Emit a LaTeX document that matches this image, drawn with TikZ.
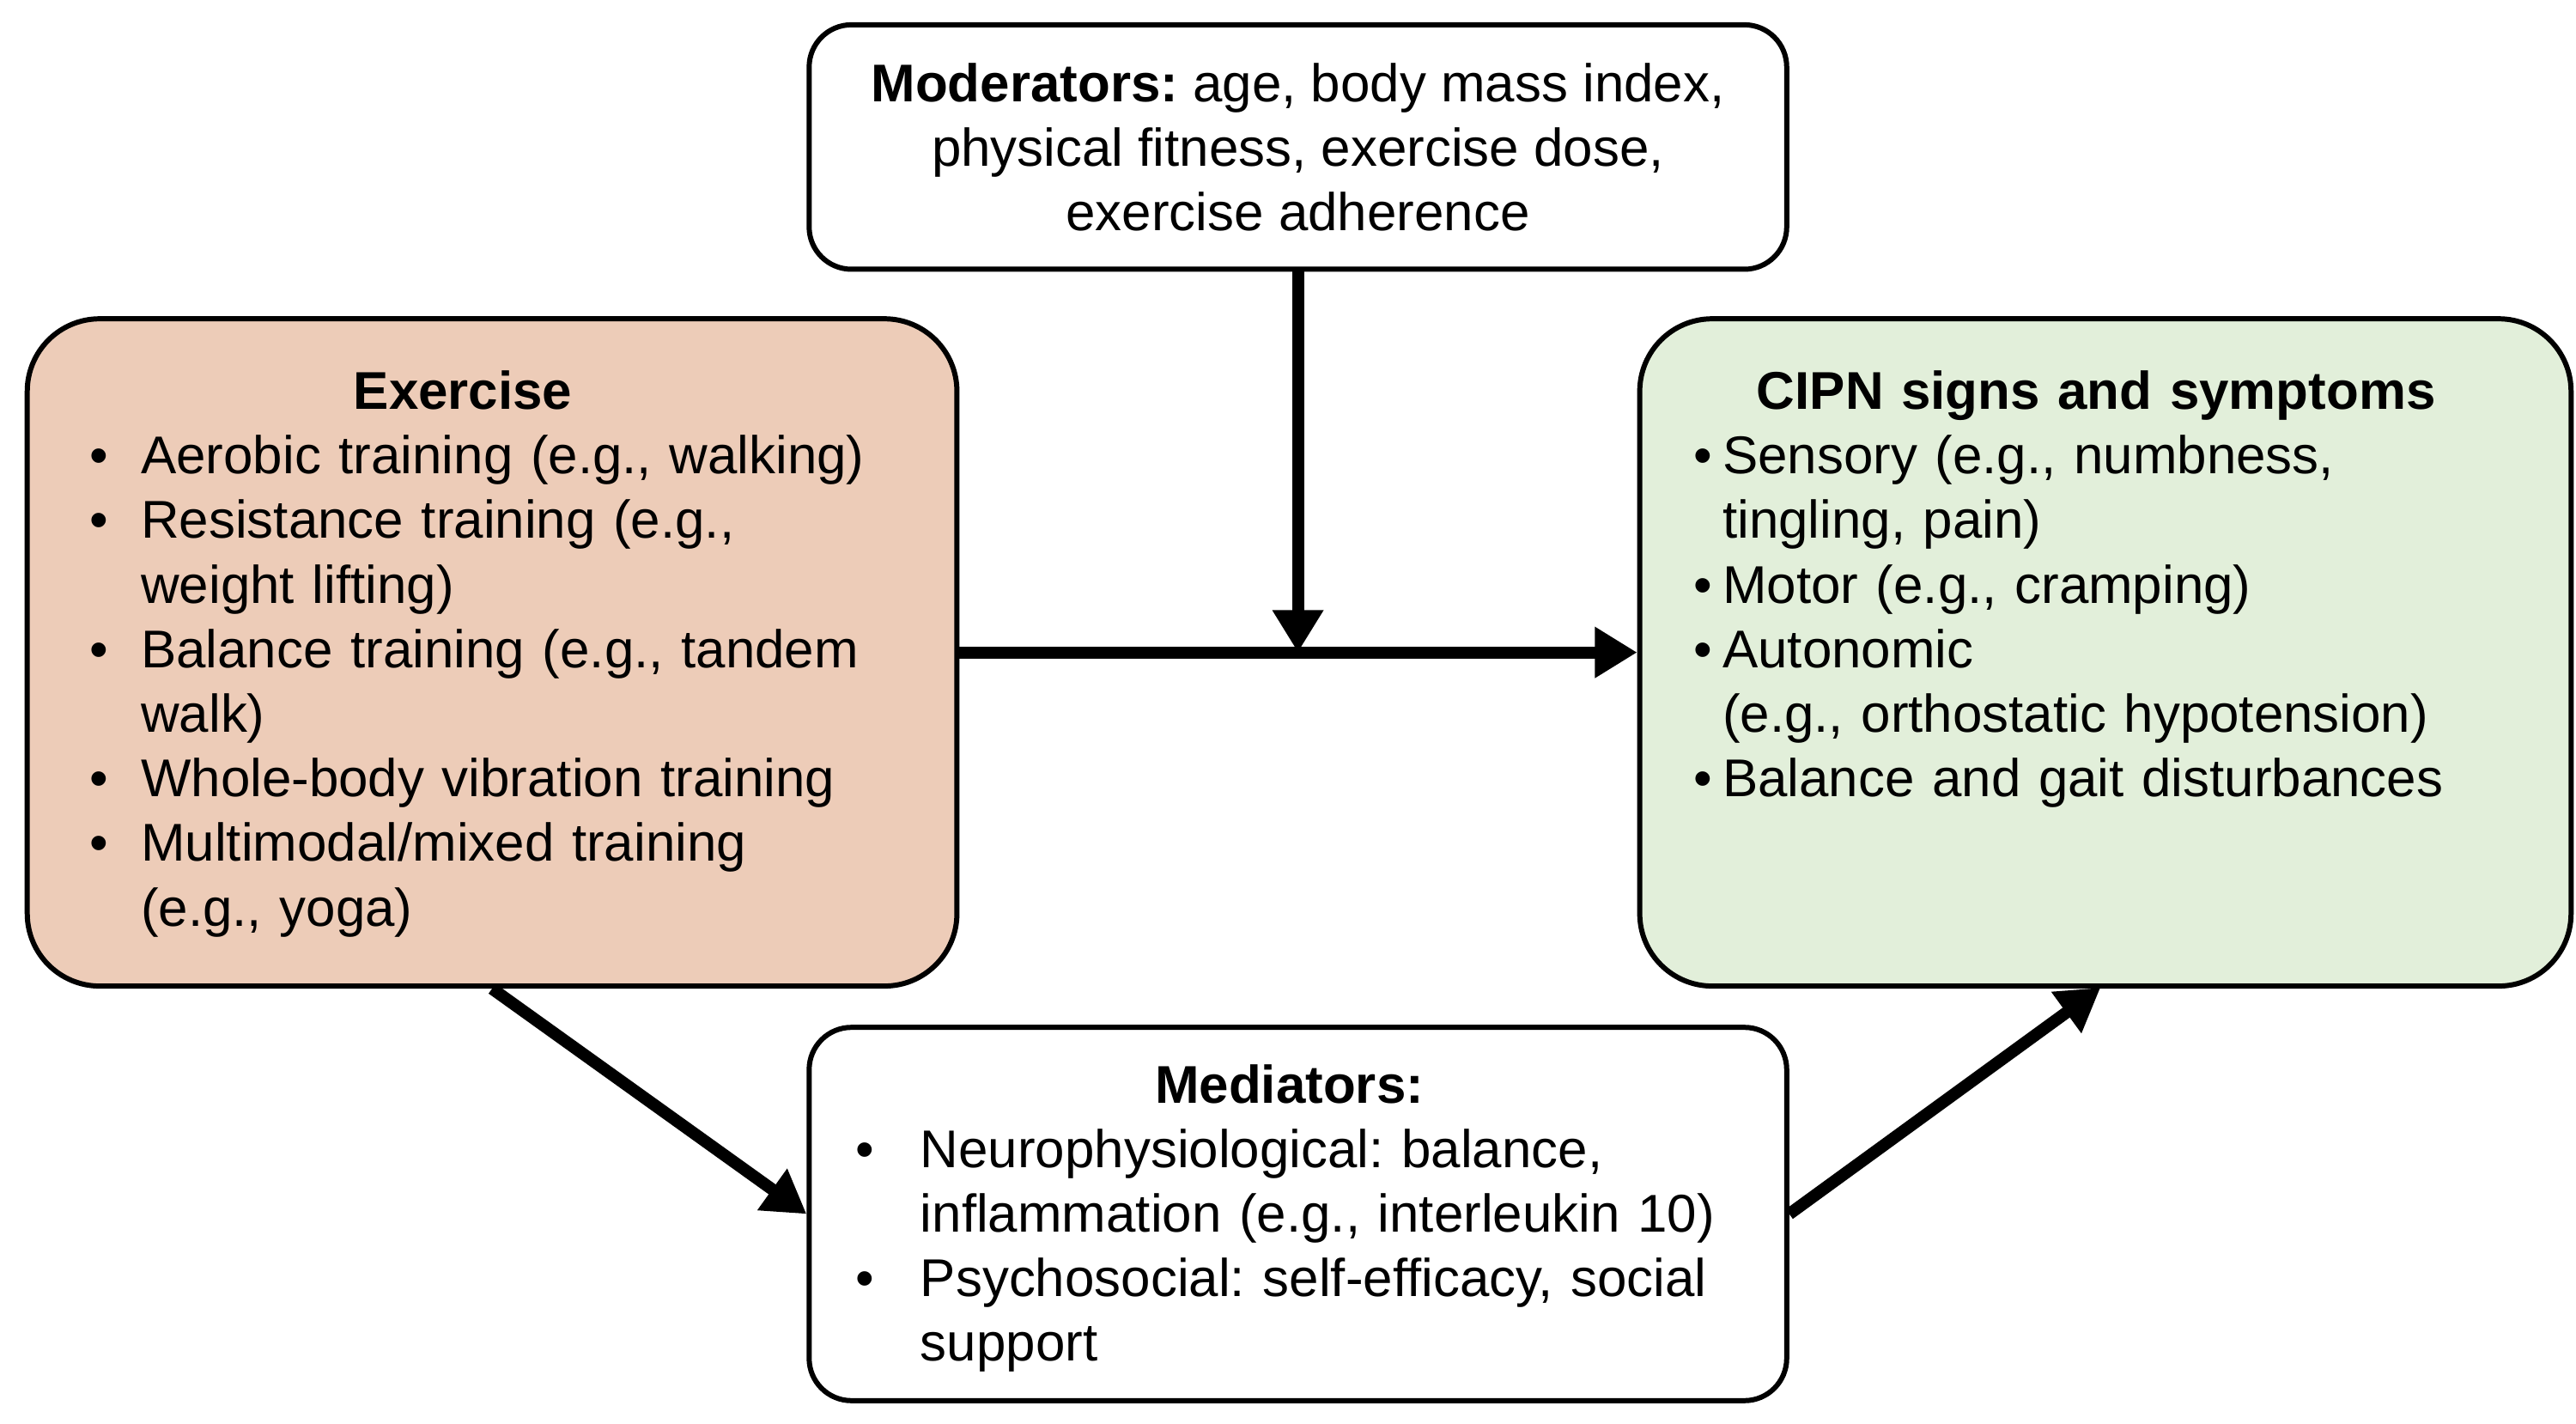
\documentclass[tikz,border=0pt]{standalone}
\usepackage{fontspec}
\setmainfont{Liberation Sans}
\usepackage{enumitem}
\usetikzlibrary{positioning,arrows.meta}
\definecolor{peach}{RGB}{237,204,184}
\definecolor{mint}{RGB}{226,239,218}
\newcommand{\pxl}{0.01923cm}
\newcommand{\boxfont}{\fontsize{17.6}{21.4}\selectfont\frenchspacing}
\tikzset{
  box/.style={draw, line width=1.7pt, inner sep=0pt},
  txt/.style={inner sep=0pt, align=left, font=\boxfont},
  arr/.style={line width=4pt, -{Triangle[length=14pt,width=16pt]}}
}
\setlist[itemize]{label=\textbullet, topsep=0pt, itemsep=0pt, parsep=0pt, partopsep=0pt}
\begin{document}
\begin{tikzpicture}[x=0.01923cm, y=-0.01923cm]
	\useasboundingbox (0,0) rectangle (1560,862);
	% boxes
		\node[box, rounded corners=14pt, minimum width=592*\pxl, minimum height=148*\pxl] (mod) at (786,89) {};
		\node[box, rounded corners=24pt, fill=peach, minimum width=563*\pxl, minimum height=404*\pxl] (ex) at (298,395) {};
		\node[box, rounded corners=24pt, fill=mint, minimum width=564*\pxl, minimum height=404*\pxl] (cipn) at (1275,395) {};
		\node[box, rounded corners=14pt, minimum width=592*\pxl, minimum height=226*\pxl] (med) at (786,735) {};

	% texts
		\node[txt, align=center] (modt) at (mod) {\textbf{Moderators:} age, body mass index,\\ physical fitness, exercise dose,\\ exercise adherence};
		\node[txt, text width=9.2cm, anchor=north west] (ext) at (55,224) {%
			\centering\hspace*{-0.55cm}\textbf{Exercise}\par\raggedright
			\begin{itemize}[leftmargin=0.577cm, labelsep=0.38cm]
			\item Aerobic training (e.g., walking)
			\item Resistance training (e.g.,\\ weight lifting)
			\item Balance training (e.g., tandem\\ walk)
			\item Whole-body vibration training
			\item Multimodal/mixed training\\ (e.g., yoga)
			\end{itemize}};
		\node[txt, text width=10cm, anchor=north west] (cipnt) at (1022,224) {%
			\centering\hspace*{-0.5cm}\textbf{CIPN signs and symptoms}\par\raggedright
			\begin{itemize}[leftmargin=0.4cm, labelsep=0.12cm]
			\item Sensory (e.g., numbness,\\ tingling, pain)
			\item Motor (e.g., cramping)
			\item Autonomic\\ (e.g., orthostatic hypotension)
			\item Balance and gait disturbances
			\end{itemize}};
		\node[txt, text width=10.4cm, anchor=north west] (medt) at (510,644) {%
			\centering\textbf{Mediators:}\par\raggedright
			\begin{itemize}[leftmargin=0.904cm, labelsep=0.538cm]
			\item Neurophysiological: balance,\\ inflammation (e.g., interleukin 10)
			\item Psychosocial: self-efficacy, social\\ support
			\end{itemize}};

	% arrows
		\coordinate (mid) at (ex.east -| mod.south);
		\draw[arr] (ex.east) -- (cipn.west);
		\draw[arr] (mod.south) -- (mid);
		\draw[arr] (ex.south) -- (med.west);
		\draw[arr] (med.east) -- (1272,598);
\end{tikzpicture}
\end{document}
